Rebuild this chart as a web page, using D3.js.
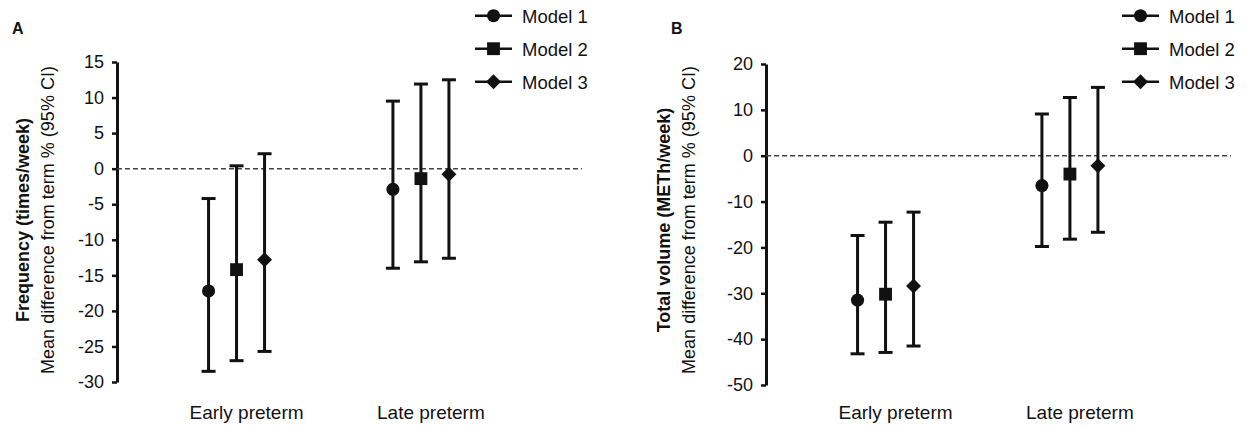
<!DOCTYPE html>
<html>
<head>
<meta charset="utf-8">
<script src="https://cdn.jsdelivr.net/npm/d3@7"></script>
<style>
  body { margin: 0; background: #fff; }
  svg { display: block; font-family: Arial, "Liberation Sans", sans-serif; }
</style>
</head>
<body>
<svg id="chart" width="1249" height="427"></svg>
<script>
// categories and series
var categories = ['Early preterm', 'Late preterm'];
var models = ['Model 1', 'Model 2', 'Model 3'];

// panel A: frequency (times/week), values per category, one per model
var freqMean  = [[-17.2, -14.2, -12.8], [-2.9, -1.4, -0.8]];
var freqLower = [[-28.5, -27.0, -25.7], [-14.0, -13.1, -12.6]];
var freqUpper = [[-4.2, 0.4, 2.1], [9.5, 11.9, 12.5]];
var freqTicks = [15, 10, 5, 0, -5, -10, -15, -20, -25, -30];

// panel B: total volume (METh/week)
var volMean  = [[-31.5, -30.2, -28.4], [-6.5, -4.0, -2.2]];
var volLower = [[-43.2, -42.9, -41.5], [-19.8, -18.2, -16.7]];
var volUpper = [[-17.4, -14.5, -12.3], [9.1, 12.7, 14.9]];
var volTicks = [20, 10, 0, -10, -20, -30, -40, -50];

var svg = d3.select('#chart');
var ink = '#111';

function rows(mean, lower, upper) {
  var out = [];
  categories.forEach(function(c, i) {
    models.forEach(function(m, j) {
      out.push({cat: c, model: m, mean: mean[i][j], lo: lower[i][j], hi: upper[i][j]});
    });
  });
  return out;
}

function symbolPath(model) {
  if (model == 'Model 1') return d3.symbol(d3.symbolCircle, 135)();
  if (model == 'Model 2') return d3.symbol(d3.symbolSquare, 165)();
  return d3.symbol(d3.symbolSquare, 112)();
}
function symbolRot(model) {
  return model == 'Model 3' ? ' rotate(45)' : '';
}

function drawPanel(opts) {
  var g = svg.append('g');
  var axisX = opts.axisX;
  var plotW = 465;

  var x = d3.scalePoint()
    .domain(categories)
    .range([axisX, axisX + plotW])
    .padding(0.761)
    .align(0.426);
  var inner = d3.scalePoint().domain(models).range([-28, 28]);
  var y = d3.scaleLinear().domain(opts.domain).range([opts.bottom, opts.top]);

  // panel letter
  g.append('text')
    .attr('x', opts.letterX).attr('y', 34)
    .attr('font-size', 16).attr('font-weight', 'bold').attr('fill', ink)
    .text(opts.letter);

  // y axis
  var yAxis = g.append('g')
    .attr('transform', 'translate(' + axisX + ',0)')
    .call(d3.axisLeft(y)
      .tickValues(opts.ticks)
      .tickFormat(function(d) { return String(d); })
      .tickSize(5).tickPadding(8).tickSizeOuter(0));
  yAxis.select('.domain').attr('stroke', ink).attr('stroke-width', 3);
  yAxis.selectAll('.tick line').attr('stroke', ink).attr('stroke-width', 2.5);
  yAxis.selectAll('.tick text')
    .attr('font-size', 18).attr('fill', ink)
    .attr('font-family', 'Arial, "Liberation Sans", sans-serif');

  // zero line
  g.append('line')
    .attr('x1', axisX).attr('x2', axisX + plotW)
    .attr('y1', y(0)).attr('y2', y(0))
    .attr('stroke', '#444').attr('stroke-width', 1.5)
    .attr('stroke-dasharray', '5,3');

  // axis titles
  var titleY = 220;
  g.append('text')
    .attr('transform', 'translate(' + opts.titleX + ',' + titleY + ') rotate(-90)')
    .attr('text-anchor', 'middle').attr('font-size', 18).attr('font-weight', 'bold')
    .attr('fill', ink)
    .text(opts.title);
  g.append('text')
    .attr('transform', 'translate(' + (opts.titleX + 25) + ',' + titleY + ') rotate(-90)')
    .attr('text-anchor', 'middle').attr('font-size', 18).attr('fill', ink)
    .text('Mean difference from term % (95% CI)');

  // category labels
  g.selectAll('.cat')
    .data(categories)
    .enter().append('text')
    .classed('cat', true)
    .attr('x', function(d) { return x(d) + 10; })
    .attr('y', 419)
    .attr('text-anchor', 'middle').attr('font-size', 19).attr('fill', ink)
    .text(function(d) { return d; });

  // error bars
  var bars = g.selectAll('.bar')
    .data(opts.data)
    .enter().append('g')
    .classed('bar', true)
    .attr('transform', function(d) { return 'translate(' + (x(d.cat) + inner(d.model)) + ',0)'; });
  bars.append('line')
    .attr('y1', function(d) { return y(d.lo); })
    .attr('y2', function(d) { return y(d.hi); })
    .attr('stroke', ink).attr('stroke-width', 3);
  bars.append('line')
    .attr('x1', -7).attr('x2', 7)
    .attr('y1', function(d) { return y(d.lo); })
    .attr('y2', function(d) { return y(d.lo); })
    .attr('stroke', ink).attr('stroke-width', 3);
  bars.append('line')
    .attr('x1', -7).attr('x2', 7)
    .attr('y1', function(d) { return y(d.hi); })
    .attr('y2', function(d) { return y(d.hi); })
    .attr('stroke', ink).attr('stroke-width', 3);
  bars.append('path')
    .attr('d', function(d) { return symbolPath(d.model); })
    .attr('transform', function(d) { return 'translate(0,' + y(d.mean) + ')' + symbolRot(d.model); })
    .attr('fill', ink);

  // legend
  var leg = g.selectAll('.leg')
    .data(models)
    .enter().append('g')
    .classed('leg', true)
    .attr('transform', function(d, i) { return 'translate(' + opts.legendX + ',' + (15.7 + i * 33) + ')'; });
  leg.append('line')
    .attr('x1', 0).attr('x2', 37)
    .attr('stroke', ink).attr('stroke-width', 2.5);
  leg.append('path')
    .attr('d', function(d) { return symbolPath(d); })
    .attr('transform', function(d) { return 'translate(18.5,0)' + symbolRot(d); })
    .attr('fill', ink);
  leg.append('text')
    .attr('x', 47).attr('y', 7)
    .attr('font-size', 18.5).attr('fill', ink)
    .text(function(d) { return d; });
}

drawPanel({
  letter: 'A', letterX: 12, axisX: 117, top: 62, bottom: 382,
  domain: [-30, 15], ticks: freqTicks,
  title: 'Frequency (times/week)', titleX: 29, legendX: 475,
  data: rows(freqMean, freqLower, freqUpper)
});

drawPanel({
  letter: 'B', letterX: 671, axisX: 766, top: 64, bottom: 385,
  domain: [-50, 20], ticks: volTicks,
  title: 'Total volume (METh/week)', titleX: 670, legendX: 1122,
  data: rows(volMean, volLower, volUpper)
});
</script>
</body>
</html>
